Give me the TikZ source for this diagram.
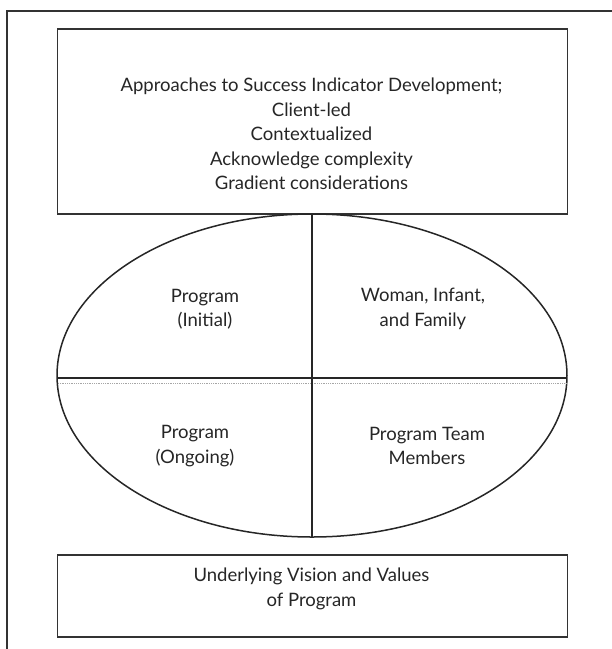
\documentclass[tikz,border=0pt]{standalone}
\usepackage{fontspec}
\setmainfont{Lato}
\begin{document}
\begin{tikzpicture}[x=1pt,y=-1pt,
  frame/.style={draw=black!80,line width=1.6pt},
  boxed/.style={draw=black!80,line width=1.8pt},
  label/.style={align=center,font=\fontsize{18.5}{24.5}\selectfont,text=black!85,inner sep=0pt}]
\useasboundingbox (0,0) rectangle (612,649);
% outer frame (top and left edges)
\coordinate (ftl) at (7,11);
\coordinate (ftr) at (612,11);
\coordinate (fbl) at (7,649);
\draw[frame] (ftr) -- (ftl) -- (fbl);
% top box
\node[boxed,minimum width=510pt,minimum height=185pt,anchor=north west,inner sep=0pt] (top) at (56.5,28) {};
\node[label] (toptext) at (311.5,134) {Approaches to Success Indicator Development;\\Client-led\\Contextualized\\Acknowledge complexity\\Gradient considerations};
% ellipse with quadrants
\coordinate (ec) at (312,375.5);
\draw[draw=black!85,line width=1.5pt] (ec) ellipse [x radius=255, y radius=161.5];
\coordinate (vt) at (312,214);
\coordinate (vb) at (312,537);
\coordinate (hl) at (57,378);
\coordinate (hr) at (567,378);
\coordinate (sl) at (58,383);
\coordinate (sr) at (566,383);
\draw[black!35,line width=0.8pt,densely dotted] (sl) -- (sr);
\draw[black!85,line width=1.5pt] (hl) -- (hr);
\draw[black!85,line width=1.5pt] (vt) -- (vb);
\node[label] (q1) at (205,309) {Program\\(Initial)};
\node[label] (q2) at (423,309) {Woman, Infant,\\and Family};
\node[label] (q3) at (195,446) {Program\\(Ongoing)};
\node[label] (q4) at (427,446) {Program Team\\Members};
% bottom box
\node[boxed,minimum width=510pt,minimum height=82pt,anchor=north west,inner sep=0pt] (bottom) at (56.5,554) {};
\node[label] (bottomtext) at (311.5,589) {Underlying Vision and Values\\of Program};
\end{tikzpicture}
\end{document}
